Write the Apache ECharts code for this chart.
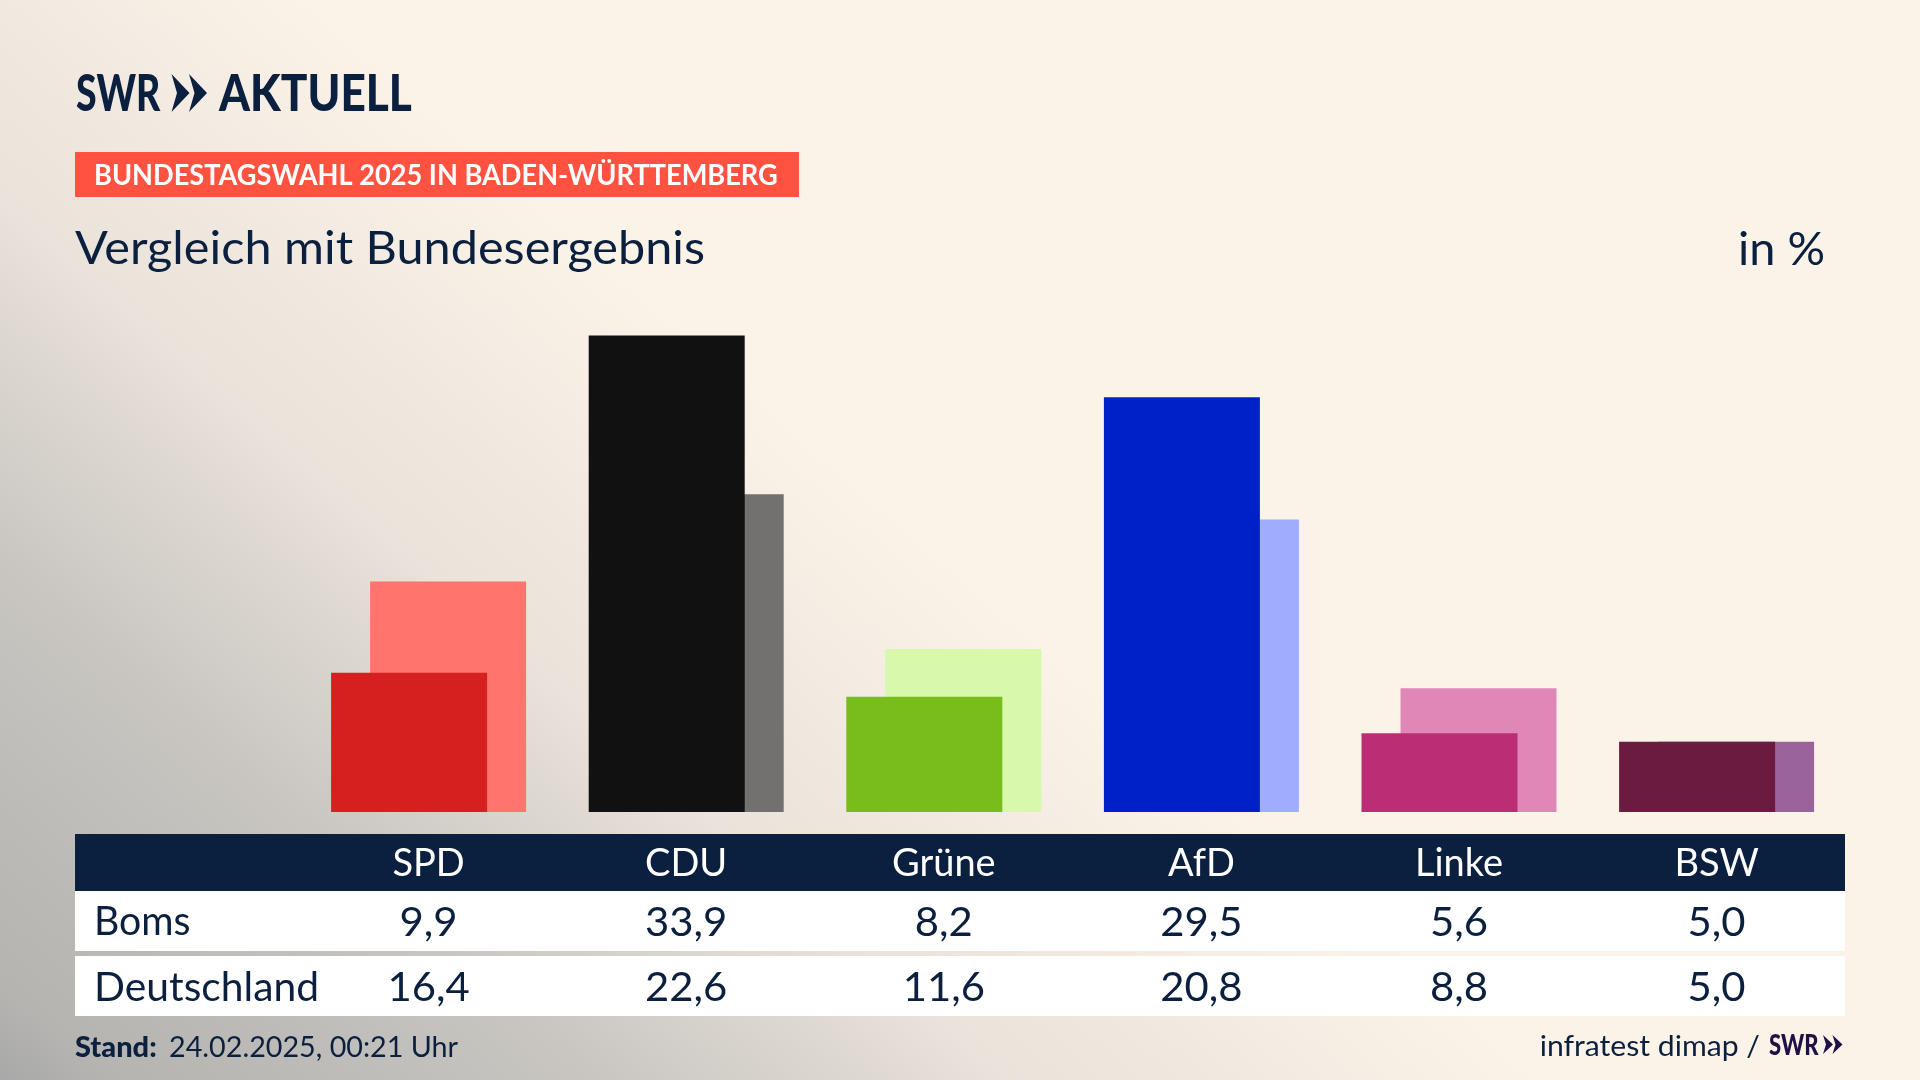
<!DOCTYPE html>
<html>
<head>
<meta charset="utf-8">
<style>
html, body { margin: 0; padding: 0; width: 1920px; height: 1080px; overflow: hidden; background: #fbf3e8; }
#bg { position: absolute; left: 0; top: 0; width: 1920px; height: 1080px;
  background: linear-gradient(221.2deg, #fbf3e8 0%, #fbf3e8 51%, #f5ede3 57.5%, #f0e8df 62%, #e9e3db 68%, #e0dad3 71.6%, #c9c6c1 81%, #bbbab7 90.6%, #b5b4b1 96.5%, #a8a8a8 100%); }
#figure { position: absolute; left: 0; top: 0; width: 1920px; height: 1080px; }
</style>
<script src="https://cdn.jsdelivr.net/npm/echarts@6/dist/echarts.min.js"></script>
</head>
<body>
<div id="bg"></div>
<div id="figure"></div>
<script>
var parties = ['SPD', 'CDU', 'Grüne', 'AfD', 'Linke', 'BSW'];
var boms = [9.9, 33.9, 8.2, 29.5, 5.6, 5.0];
var deutschland = [16.4, 22.6, 11.6, 20.8, 8.8, 5.0];
var frontColors = ['#d61f1f', '#111111', '#78bd1b', '#0021c8', '#bb2e75', '#6b1a40'];
var backColors = ['#ff756e', '#73716f', '#d8f8ab', '#9fadff', '#df88b8', '#9b639c'];

var navy = '#0b1f3f';
var purple = '#1f1145';
var font = 'Lato';

var figure = echarts.init(document.getElementById('figure'));

function fmt(v) {
    return v.toFixed(1).replace('.', ',');
}

function colored(values, colors) {
    return values.map(function(v, i) {
        return { value: v, itemStyle: { color: colors[i] } };
    });
}

// double arrow of the SWR logo
function chevrons(x, top, bottom, w, notch, step, color) {
    var mid = (top + bottom) / 2;
    return [x, x + step].map(function(x0) {
        return {
            type: 'polygon',
            z: 5,
            shape: { points: [[x0, top], [x0 + w, mid], [x0, bottom], [x0 + notch, mid]] },
            style: { fill: color }
        };
    });
}

function text(x, y, str, size, weight, color, align, sx) {
    return {
        type: 'text',
        z: 5,
        x: x,
        y: y,
        scaleX: sx || 1,
        style: {
            text: str,
            font: weight + ' ' + size + 'px ' + font,
            fill: color,
            align: align || 'left',
            verticalAlign: 'middle'
        }
    };
}

var option = {
    animation: false,
    grid: { left: 299.8, width: 1545.6, top: 320, bottom: 268 },
    xAxis: {
        type: 'category',
        data: parties,
        axisLine: { show: false },
        axisTick: { show: false },
        axisLabel: {
            interval: 0,
            margin: 52,
            verticalAlign: 'middle',
            color: '#ffffff',
            fontFamily: font,
            fontSize: 38
        }
    },
    yAxis: {
        type: 'value',
        min: 0,
        max: 35,
        show: false
    },
    series: [{
        name: 'Boms',
        type: 'bar',
        z: 3,
        barWidth: 156,
        barGap: '-75%',
        data: colored(boms, frontColors)
    }, {
        name: 'Deutschland',
        type: 'bar',
        z: 2,
        barWidth: 156,
        barGap: '-75%',
        data: colored(deutschland, backColors)
    }]
};

figure.setOption(option);

var elements = [
    { type: 'rect', z: 0, shape: { x: 75, y: 152, width: 724, height: 45 }, style: { fill: '#ff5240' } },
    { type: 'rect', z: 0, shape: { x: 75, y: 834, width: 1770, height: 57 }, style: { fill: navy } },
    { type: 'rect', z: 0, shape: { x: 75, y: 891, width: 1770, height: 60 }, style: { fill: '#ffffff' } },
    { type: 'rect', z: 0, shape: { x: 75, y: 956, width: 1770, height: 60 }, style: { fill: '#ffffff' } },
    text(76, 94, 'SWR', 52, 900, navy, 'left', 0.72),
    text(219, 94, 'AKTUELL', 52, 900, navy, 'left', 0.85),
    text(94, 176, 'BUNDESTAGSWAHL 2025 IN BADEN-WÜRTTEMBERG', 29, 'bold', '#ffffff', 'left', 0.937),
    text(75, 249, 'Vergleich mit Bundesergebnis', 46, 'normal', navy, 'left', 1.057),
    text(1825, 250, 'in %', 46, 'normal', navy, 'right', 1.02),
    text(94, 922, 'Boms', 40, 'normal', navy, 'left', 0.98),
    text(94, 988, 'Deutschland', 40, 'normal', navy, 'left', 1.02),
    text(75, 1048, 'Stand:', 29, 900, navy, 'left', 1.0),
    text(169, 1048, '24.02.2025, 00:21 Uhr', 29, 'normal', navy, 'left', 0.99),
    text(1760, 1047, 'infratest dimap /', 29, 'normal', navy, 'right', 1.04),
    text(1769, 1046, 'SWR', 29, 900, purple, 'left', 0.76)
].concat(chevrons(171.5, 74, 112, 18, 5.5, 17.5, navy), chevrons(1823, 1035, 1054, 10, 3, 9.5, purple));

parties.forEach(function(p, i) {
    var x = figure.convertToPixel({ xAxisIndex: 0 }, p);
    elements.push(text(x, 923, fmt(boms[i]), 41, 'normal', navy, 'center', 1.02));
    elements.push(text(x, 988, fmt(deutschland[i]), 41, 'normal', navy, 'center', 1.02));
});

figure.setOption({ graphic: { elements: elements } });
</script>
</body>
</html>
